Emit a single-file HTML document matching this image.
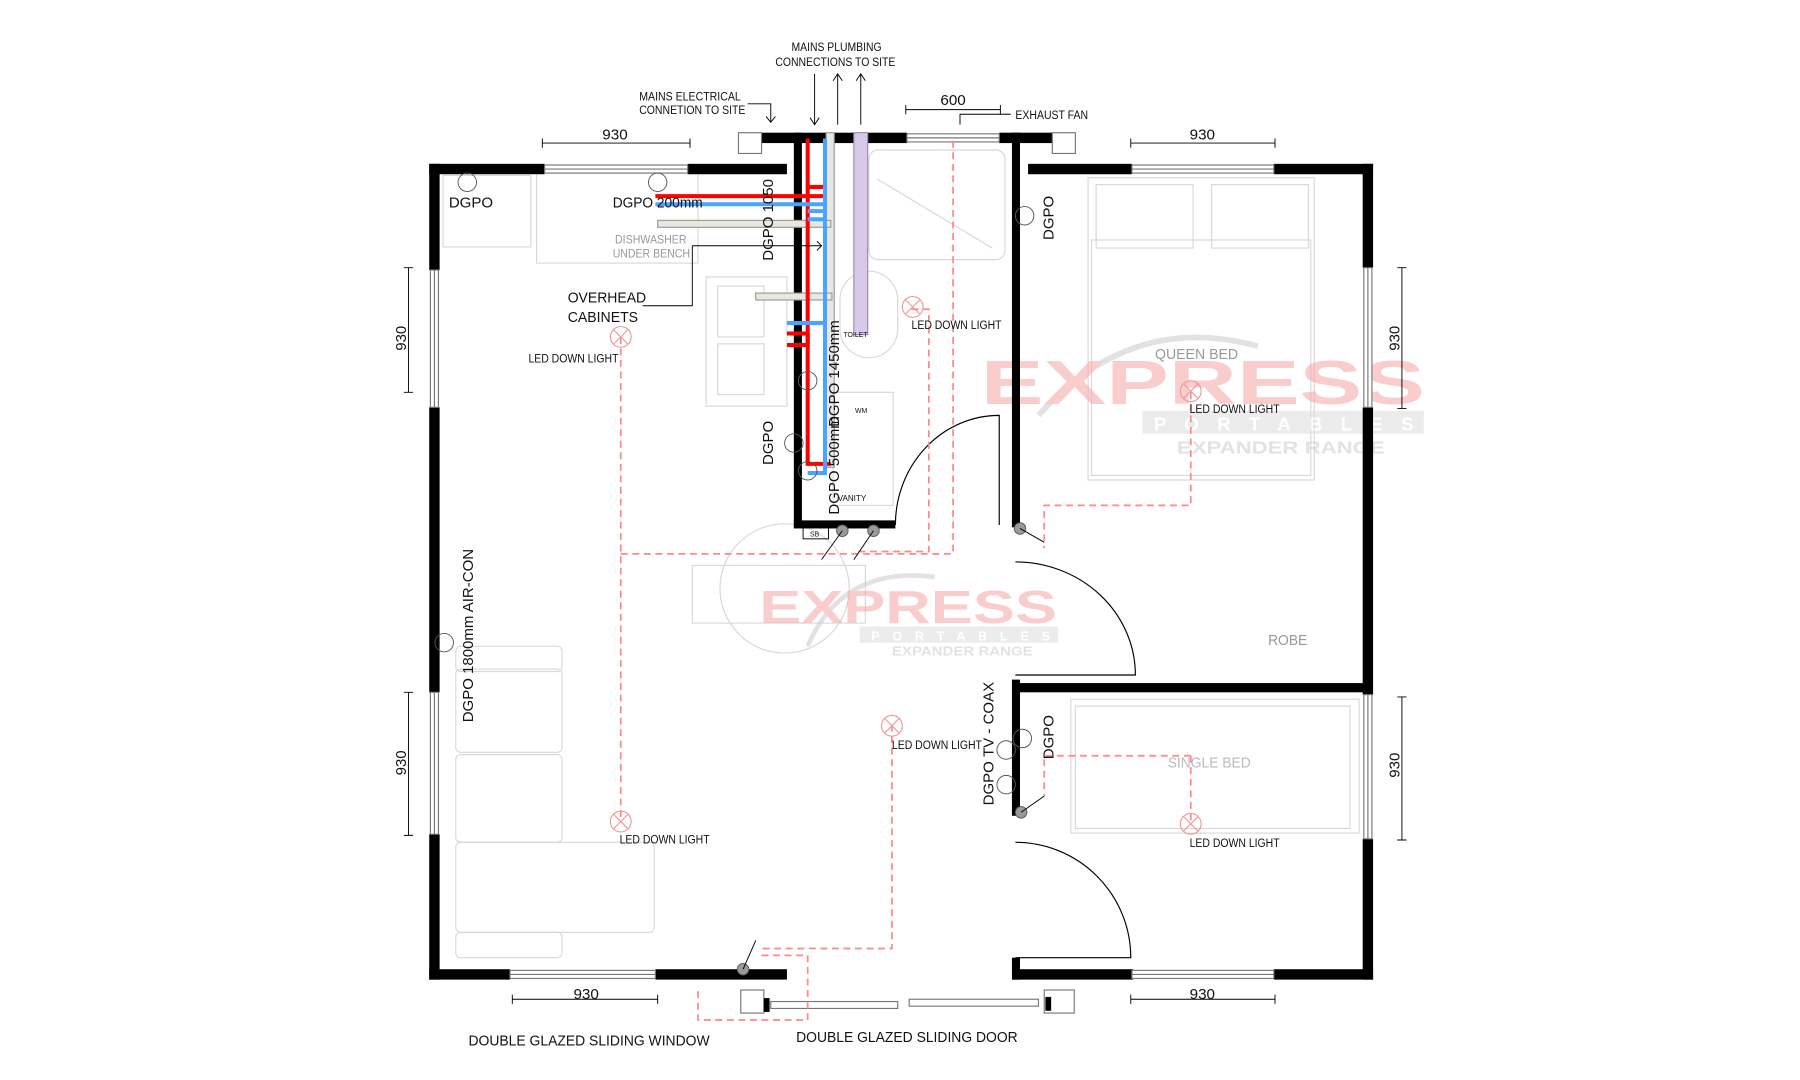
<!DOCTYPE html>
<html><head><meta charset="utf-8"><style>
html,body{margin:0;padding:0;background:#fff;}
svg{display:block;}
text{font-family:"Liberation Sans",sans-serif;fill:#111;}
</style></head><body>
<svg width="1800" height="1080" viewBox="0 0 1560 936" xmlns="http://www.w3.org/2000/svg">
<rect width="1560" height="936" fill="#fff"/>

<!-- light furniture -->
<g fill="none" stroke="#d8d8d8" stroke-width="1">
<rect x="465" y="150" width="140" height="78"/>
<rect x="384" y="152" width="76" height="62"/>
<rect x="612" y="240" width="70" height="112"/>
<rect x="622" y="248" width="40" height="44"/><rect x="622" y="298" width="40" height="44"/>
<rect x="753" y="130" width="118" height="95" rx="8"/>
<line x1="760" y1="155" x2="860" y2="215"/>
<rect x="728" y="235" width="50" height="75" rx="25"/>
<rect x="722" y="340" width="52" height="98"/>
<rect x="943" y="154" width="196" height="262"/>
<rect x="950" y="160" width="84" height="55"/><rect x="1050" y="160" width="84" height="55"/>
<rect x="946" y="208" width="190" height="204"/>
<rect x="928" y="606" width="250" height="116"/>
<rect x="932" y="612" width="238" height="106"/>
<circle cx="680" cy="510" r="56"/>
<rect x="600" y="490" width="150" height="50"/>
<rect x="395" y="560" width="92" height="22" rx="4"/>
<rect x="395" y="580" width="92" height="72" rx="4"/>
<rect x="395" y="654" width="92" height="76" rx="4"/>
<rect x="395" y="730" width="172" height="78" rx="4"/>
<rect x="395" y="808" width="92" height="22" rx="4"/>
</g>

<!-- watermark -->
<g opacity="0.55">
<path d="M900 360 Q980 270 1090 300" fill="none" stroke="#ccc" stroke-width="5"/>
<text x="850" y="350" font-size="54" font-weight="bold" style="fill:#f7a6a6" textLength="385" lengthAdjust="spacingAndGlyphs">EXPRESS</text>
<rect x="990" y="356" width="244" height="20" fill="#ddd"/>
<text x="1000" y="373" font-size="16" font-weight="bold" style="fill:#fff" textLength="225" lengthAdjust="spacing">PORTABLES</text>
<text x="1020" y="393" font-size="15" font-weight="bold" style="fill:#ccc" textLength="180" lengthAdjust="spacingAndGlyphs">EXPANDER RANGE</text>
<path d="M700 560 Q730 490 810 500" fill="none" stroke="#ccc" stroke-width="4"/>
<text x="658" y="540" font-size="40" font-weight="bold" style="fill:#f7a6a6" textLength="258" lengthAdjust="spacingAndGlyphs">EXPRESS</text>
<rect x="745" y="543" width="172" height="14" fill="#ddd"/>
<text x="755" y="555" font-size="11" font-weight="bold" style="fill:#fff" textLength="155" lengthAdjust="spacing">PORTABLES</text>
<text x="773" y="568" font-size="11" font-weight="bold" style="fill:#ccc" textLength="122" lengthAdjust="spacingAndGlyphs">EXPANDER RANGE</text>
</g>

<!-- walls -->
<g fill="#000">
<rect x="372" y="142" width="100" height="9"/><rect x="596" y="142" width="86" height="9"/>
<rect x="372" y="142" width="9" height="92"/><rect x="372" y="353" width="9" height="247"/><rect x="372" y="723" width="9" height="126"/>
<rect x="372" y="840" width="70" height="9"/><rect x="568" y="840" width="114" height="9"/>
<rect x="660" y="115" width="126" height="9"/><rect x="866" y="115" width="46" height="9"/>
<rect x="688" y="115" width="7" height="342"/>
<rect x="688" y="451" width="88" height="7"/>
<rect x="877" y="115" width="7" height="342"/>
<rect x="877" y="589" width="7" height="118"/>
<rect x="877" y="830" width="7" height="19"/>
<rect x="891" y="142" width="90" height="9"/><rect x="1104" y="142" width="86" height="9"/>
<rect x="1181" y="142" width="9" height="90"/><rect x="1181" y="353" width="9" height="249"/><rect x="1181" y="727" width="9" height="122"/>
<rect x="880" y="592" width="305" height="8"/>
<rect x="878" y="840" width="104" height="9"/><rect x="1104" y="840" width="86" height="9"/>
</g>

<!-- windows -->
<g fill="#fff" stroke="#777" stroke-width="1">
<rect x="472" y="143" width="124" height="7"/><line x1="472" y1="146.5" x2="596" y2="146.5"/>
<rect x="981" y="143" width="123" height="7"/><line x1="981" y1="146.5" x2="1104" y2="146.5"/>
<rect x="442" y="841" width="126" height="7"/><line x1="442" y1="844.5" x2="568" y2="844.5"/>
<rect x="981" y="841" width="123" height="7"/><line x1="981" y1="844.5" x2="1104" y2="844.5"/>
<rect x="373" y="234" width="7" height="119"/><line x1="376.5" y1="234" x2="376.5" y2="353"/>
<rect x="373" y="600" width="7" height="123"/><line x1="376.5" y1="600" x2="376.5" y2="723"/>
<rect x="1182" y="232" width="7" height="121"/><line x1="1185.5" y1="232" x2="1185.5" y2="353"/>
<rect x="1182" y="602" width="7" height="125"/><line x1="1185.5" y1="602" x2="1185.5" y2="727"/>
<rect x="786" y="116" width="80" height="7"/><line x1="786" y1="119.5" x2="866" y2="119.5"/>
<rect x="640" y="115" width="20" height="18"/><rect x="912" y="115" width="20" height="18"/>
<rect x="642" y="858" width="20" height="20"/><rect x="905" y="858" width="26" height="20"/>
<rect x="668" y="868" width="110" height="6"/><rect x="788" y="866" width="112" height="6"/>
</g>
<rect x="662" y="865" width="5" height="12" fill="#000"/><rect x="906" y="864" width="5" height="12" fill="#000"/>

<!-- doors -->
<g fill="none" stroke="#000" stroke-width="1">
<path d="M866 455 L866 360 A90 95 0 0 0 776 455"/>
<path d="M880 487 A104 98 0 0 1 984 585 L880 585"/>
<path d="M880 730 A100 100 0 0 1 980 830 L880 830"/>
</g>

<!-- plumbing -->
<rect x="740" y="115" width="12" height="175" fill="#d8c8ea" stroke="#9a8ab0"/>
<rect x="716" y="115" width="7" height="290" fill="#e8e8e0" stroke="#999"/>
<rect x="570" y="191" width="150" height="6" fill="#e8e8e0" stroke="#999"/>
<rect x="655" y="254" width="66" height="6" fill="#e8e8e0" stroke="#999"/>
<g fill="none" stroke-width="3.5">
<path d="M700 120 V402 H720" stroke="#f00"/>
<path d="M568 170 H716 M700 162 H716 M682 289 H700 V299 H682" stroke="#f00"/>
<path d="M715 120 V410 H700 M568 177 H715 M700 183 H715 M700 190 H715 M682 280 H715" stroke="#4aa3ff"/>
</g>

<!-- dashed electrical -->
<g fill="none" stroke="#f88" stroke-width="1.5" stroke-dasharray="6 4">
<path d="M538 292 V712"/>
<path d="M538 480 H826 V118"/>
<path d="M790 268 H805 V478 H742"/>
<path d="M1032 340 V438 H905 V475"/>
<path d="M1032 655 H905 V690"/>
<path d="M1032 655 V712"/>
<path d="M773 628 V822 H660"/>
<path d="M660 828 H700 V884 H605 V855"/>
</g>

<!-- switches -->
<g fill="#999" stroke="#555" stroke-width="0.8">
<circle cx="730" cy="460" r="5"/><circle cx="757" cy="460" r="5"/>
<circle cx="884" cy="458" r="5"/><circle cx="885" cy="704" r="5"/><circle cx="644" cy="840" r="5"/>
</g>
<g fill="none" stroke="#000" stroke-width="0.8">
<path d="M730 460 L712 485 M757 460 L740 485 M884 458 L905 470 M885 704 L905 690 M644 840 L655 815"/>
</g>

<!-- lights -->
<g fill="none" stroke="#e99" stroke-width="1">
<circle cx="538" cy="292" r="9"/><circle cx="791" cy="266" r="9"/><circle cx="1032" cy="339" r="9"/>
<circle cx="773" cy="629" r="9"/><circle cx="538" cy="712" r="9"/><circle cx="1032" cy="714" r="9"/>
<path d="M532 286l12 12m0-12l-12 12M785 260l12 12m0-12l-12 12M1026 333l12 12m0-12l-12 12M767 623l12 12m0-12l-12 12M532 706l12 12m0-12l-12 12M1026 708l12 12m0-12l-12 12"/>
</g>

<!-- outlet symbols -->
<g fill="none" stroke="#555" stroke-width="0.8">
<circle cx="405" cy="158" r="8"/><circle cx="570" cy="158" r="8"/><circle cx="888" cy="187" r="8"/>
<circle cx="688" cy="384" r="8"/><circle cx="700" cy="408" r="8"/><circle cx="700" cy="330" r="8"/>
<circle cx="385" cy="557" r="8"/><circle cx="886" cy="640" r="8"/><circle cx="872" cy="650" r="8"/><circle cx="872" cy="680" r="8"/>
</g>

<!-- dims -->
<g stroke="#000" stroke-width="0.8" fill="none">
<path d="M470 124 H598 M470 120 v8 M598 120 v8"/>
<path d="M980 124 H1105 M980 120 v8 M1105 120 v8"/>
<path d="M444 866 H570 M444 862 v8 M570 862 v8"/>
<path d="M980 866 H1105 M980 862 v8 M1105 862 v8"/>
<path d="M785 95 H867 M785 91 v8 M867 91 v8"/>
<path d="M354 232 V340 M350 232 h8 M350 340 h8"/>
<path d="M354 600 V724 M350 600 h8 M350 724 h8"/>
<path d="M1215 232 V354 M1211 232 h8 M1211 354 h8"/>
<path d="M1215 604 V728 M1211 604 h8 M1211 728 h8"/>
<path d="M706 64 V108 M702 102 l4 6 4-6 M726 64 V108 M722 70 l4-6 4 6 M746 64 V108 M742 70 l4-6 4 6"/>
<path d="M648 90 H668 V106 M664 101 l4 5 4-5"/>
<path d="M876 99 H832 V108"/>
<path d="M600 213 H712 M708 209 l4 4-4 4 M600 213 V265 H557"/>
</g>

<g font-size="11">
<text x="522" y="121" font-size="13" textLength="22" lengthAdjust="spacingAndGlyphs">930</text>
<text x="1031" y="121" font-size="13" textLength="22" lengthAdjust="spacingAndGlyphs">930</text>
<text x="497" y="866" font-size="13" textLength="22" lengthAdjust="spacingAndGlyphs">930</text>
<text x="1031" y="866" font-size="13" textLength="22" lengthAdjust="spacingAndGlyphs">930</text>
<text x="815" y="91" font-size="13" textLength="22" lengthAdjust="spacingAndGlyphs">600</text>
<text transform="translate(352 304) rotate(-90)" font-size="13">930</text>
<text transform="translate(352 672) rotate(-90)" font-size="13">930</text>
<text transform="translate(1213 304) rotate(-90)" font-size="13">930</text>
<text transform="translate(1213 674) rotate(-90)" font-size="13">930</text>
<text x="686" y="44" font-size="10" textLength="78" lengthAdjust="spacingAndGlyphs">MAINS PLUMBING</text>
<text x="672" y="57" font-size="10" textLength="104" lengthAdjust="spacingAndGlyphs">CONNECTIONS TO SITE</text>
<text x="554" y="87" font-size="10" textLength="88" lengthAdjust="spacingAndGlyphs">MAINS ELECTRICAL</text>
<text x="554" y="99" font-size="10" textLength="92" lengthAdjust="spacingAndGlyphs">CONNETION TO SITE</text>
<text x="880" y="103" font-size="10" textLength="63" lengthAdjust="spacingAndGlyphs">EXHAUST FAN</text>
<text x="389" y="180" font-size="13">DGPO</text>
<text x="531" y="180" font-size="13" textLength="78" lengthAdjust="spacingAndGlyphs">DGPO 200mm</text>
<text x="533" y="211" font-size="10" style="fill:#999" textLength="62" lengthAdjust="spacingAndGlyphs">DISHWASHER</text>
<text x="531" y="223" font-size="10" style="fill:#999" textLength="67" lengthAdjust="spacingAndGlyphs">UNDER BENCH</text>
<text x="492" y="262" font-size="13" textLength="68" lengthAdjust="spacingAndGlyphs">OVERHEAD</text>
<text x="492" y="279" font-size="13" textLength="61" lengthAdjust="spacingAndGlyphs">CABINETS</text>
<text x="458" y="314" font-size="10" textLength="78" lengthAdjust="spacingAndGlyphs">LED DOWN LIGHT</text>
<text x="790" y="285" font-size="10" textLength="78" lengthAdjust="spacingAndGlyphs">LED DOWN LIGHT</text>
<text x="1031" y="358" font-size="10" textLength="78" lengthAdjust="spacingAndGlyphs">LED DOWN LIGHT</text>
<text x="773" y="649" font-size="10" textLength="78" lengthAdjust="spacingAndGlyphs">LED DOWN LIGHT</text>
<text x="537" y="731" font-size="10" textLength="78" lengthAdjust="spacingAndGlyphs">LED DOWN LIGHT</text>
<text x="1031" y="734" font-size="10" textLength="78" lengthAdjust="spacingAndGlyphs">LED DOWN LIGHT</text>
<text x="731" y="292" font-size="6">TOILET</text>
<text x="741" y="358" font-size="6">WM</text>
<text x="726" y="434" font-size="7">VANITY</text>
<rect x="696" y="457" width="22" height="10" fill="none" stroke="#000" stroke-width="0.8"/>
<text x="702" y="465" font-size="6">SB</text>
<text x="1001" y="311" font-size="13" style="fill:#999" textLength="72" lengthAdjust="spacingAndGlyphs">QUEEN BED</text>
<text x="1012" y="665" font-size="13" style="fill:#bbb" textLength="72" lengthAdjust="spacingAndGlyphs">SINGLE BED</text>
<text x="1099" y="559" font-size="13" style="fill:#999" textLength="34" lengthAdjust="spacingAndGlyphs">ROBE</text>
<text x="406" y="906" font-size="13" textLength="209" lengthAdjust="spacingAndGlyphs">DOUBLE GLAZED SLIDING WINDOW</text>
<text x="690" y="903" font-size="13" textLength="192" lengthAdjust="spacingAndGlyphs">DOUBLE GLAZED SLIDING DOOR</text>
</g>
<g font-size="13">
<text transform="translate(670 226) rotate(-90)">DGPO 1050</text>
<text transform="translate(913 208) rotate(-90)">DGPO</text>
<text transform="translate(670 403) rotate(-90)">DGPO</text>
<text transform="translate(727 446) rotate(-90)">DGPO 500mm</text>
<text transform="translate(727 370) rotate(-90)">DGPO 1450mm</text>
<text transform="translate(410 626) rotate(-90)">DGPO 1800mm AIR-CON</text>
<text transform="translate(861 656) rotate(-90)">TV - COAX</text>
<text transform="translate(861 698) rotate(-90)">DGPO</text>
<text transform="translate(913 658) rotate(-90)">DGPO</text>
</g>
</svg>
</body></html>
